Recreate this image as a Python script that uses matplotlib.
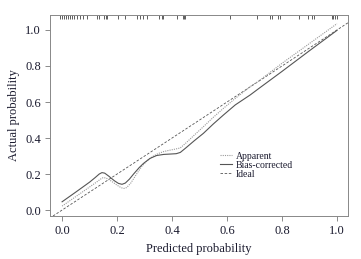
import matplotlib
matplotlib.use("Agg")
import matplotlib.pyplot as plt

# apparent calibration (dotted)
app_x = [0.0, 0.05, 0.10, 0.125, 0.14, 0.149, 0.16, 0.18, 0.20, 0.215, 0.225,
         0.235, 0.25, 0.27, 0.29, 0.31, 0.33, 0.35, 0.37, 0.39, 0.41, 0.43,
         0.45, 0.48, 0.514, 0.55, 0.587, 0.63, 0.684, 0.72, 0.80, 0.90, 1.0]
app_y = [0.022, 0.075, 0.128, 0.155, 0.172, 0.180, 0.178, 0.160, 0.138, 0.124,
         0.120, 0.125, 0.150, 0.198, 0.243, 0.275, 0.298, 0.314, 0.325, 0.332,
         0.338, 0.345, 0.372, 0.415, 0.463, 0.515, 0.565, 0.620, 0.685, 0.722,
         0.815, 0.925, 1.035]

# bias-corrected calibration (solid)
bc_x = [0.0, 0.05, 0.10, 0.12, 0.135, 0.145, 0.155, 0.17, 0.19, 0.205, 0.218,
        0.23, 0.245, 0.26, 0.28, 0.296, 0.32, 0.344, 0.37, 0.393, 0.415, 0.43,
        0.45, 0.48, 0.514, 0.55, 0.587, 0.63, 0.684, 0.72, 0.80, 0.90, 1.0]
bc_y = [0.046, 0.100, 0.155, 0.180, 0.200, 0.208, 0.205, 0.188, 0.163, 0.148,
        0.143, 0.150, 0.172, 0.200, 0.235, 0.259, 0.287, 0.303, 0.309, 0.311,
        0.313, 0.320, 0.345, 0.384, 0.426, 0.478, 0.528, 0.584, 0.639, 0.680,
        0.770, 0.885, 0.998]

# rug of predicted probabilities along the top
rug = [-0.007, 0.0, 0.007, 0.015, 0.022, 0.029, 0.036, 0.044, 0.053, 0.065,
       0.077, 0.092, 0.127, 0.135, 0.153, 0.160, 0.165, 0.205, 0.229, 0.272,
       0.284, 0.293, 0.308, 0.354, 0.363, 0.368, 0.417, 0.439, 0.444, 0.447,
       0.611, 0.710, 0.756, 0.763, 0.787, 0.793, 0.862, 0.896, 0.910, 0.917,
       0.981, 0.985, 0.993, 1.0]

xticks = [0.0, 0.2, 0.4, 0.6, 0.8, 1.0]
yticks = [0.0, 0.2, 0.4, 0.6, 0.8, 1.0]

plt.rcParams["font.family"] = ["Liberation Serif", "DejaVu Serif"]
TXT = "#1a1a2e"

fig = plt.figure(figsize=(3.61, 2.59), dpi=100)
ax = fig.add_axes([0.1385, 0.166, 0.8255, 0.776])

ax.axline((0, 0), slope=1, color="#555555", linestyle=(0, (3, 2)), linewidth=0.6,
          label="Ideal")
ax.plot(app_x, app_y, color="#9a9a9a", linestyle=(0, (1, 1)), linewidth=0.8,
        label="Apparent")
ax.plot(bc_x, bc_y, color="#555555", linestyle="-", linewidth=0.8,
        label="Bias-corrected")
ax.vlines(rug, 0.982, 1.0, transform=ax.get_xaxis_transform(),
          color="#444444", linewidth=0.6)

ax.set_xlim(-0.044, 1.04)
ax.set_ylim(-0.033, 1.083)
ax.set_xticks(xticks)
ax.set_yticks(yticks)
ax.set_xticklabels([f"{t:.1f}" for t in xticks])
ax.set_yticklabels([f"{t:.1f}" for t in yticks])
ax.tick_params(direction="out", length=3.5, width=0.6, color="#777777",
               labelsize=9, labelcolor=TXT, pad=3)
for s in ax.spines.values():
    s.set_color("#888888")
    s.set_linewidth(0.7)

ax.set_xlabel("Predicted probability", fontsize=9, color=TXT, labelpad=4)
ax.set_ylabel("Actual probability", fontsize=9, color=TXT, labelpad=4)

handles, labels = ax.get_legend_handles_labels()
order = [1, 2, 0]
ax.legend([handles[i] for i in order], [labels[i] for i in order],
          loc="upper left", bbox_to_anchor=(0.555, 0.345), frameon=False,
          fontsize=7, handlelength=1.2, handletextpad=0.4, labelspacing=0.0,
          borderpad=0, labelcolor=TXT)

fig.savefig("out.png", dpi=100)
